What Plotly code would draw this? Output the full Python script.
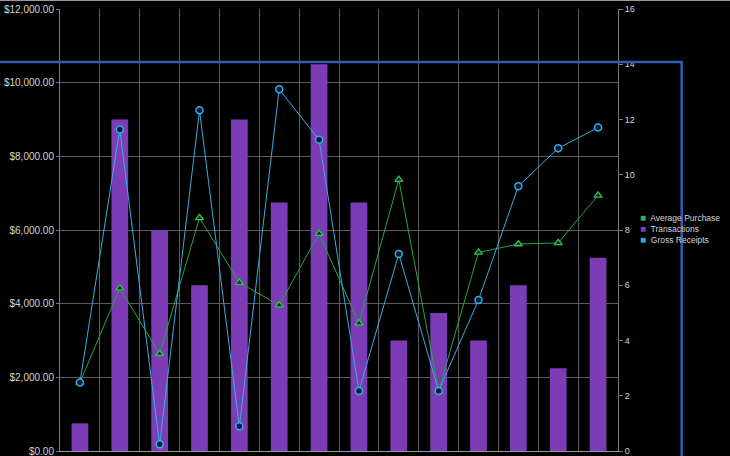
import plotly.graph_objects as go

categories = ["P1", "P2", "P3", "P4", "P5", "P6", "P7", "P8", "P9", "P10", "P11", "P12", "P13", "P14"]
transactions = [1, 12, 8, 6, 12, 9, 14, 9, 4, 5, 4, 6, 3, 7]
gross_receipts = [1860, 8730, 180, 9250, 670, 9820, 8450, 1630, 5350, 1630, 4100, 7190, 8220, 8780]
average_purchase = [1860, 4420, 2640, 6330, 4570, 3960, 5900, 3470, 7370, 1630, 5390, 5620, 5650, 6940]

left_ticks = [0, 2000, 4000, 6000, 8000, 10000, 12000]
left_tick_labels = ["$0.00", "$2,000.00", "$4,000.00", "$6,000.00", "$8,000.00", "$10,000.00", "$12,000.00"]
right_ticks = [0, 2, 4, 6, 8, 10, 12, 14, 16]
legend_names = ["Average Purchase", "Transactions", "Gross Receipts"]

PURPLE = "#7c3cb6"
CYAN = "#36aee0"
GREEN = "#22a745"
TXT = "#d4d4d4"
GRID = "#5c5c5c"
legend_colors = ["#1fb552", PURPLE, "#2aaed8"]

fig = go.Figure()

fig.add_trace(go.Bar(
    x=categories, y=transactions, yaxis="y", width=0.42,
    marker=dict(color=PURPLE, line=dict(width=0)), showlegend=False, name="Transactions"))

fig.add_trace(go.Scatter(
    x=categories, y=average_purchase, yaxis="y2", mode="lines+markers",
    line=dict(color=GREEN, width=1),
    marker=dict(symbol="triangle-up", size=7, color="#0b2a14", line=dict(color="#2fc45a", width=1.3)),
    showlegend=False, name="Average Purchase"))

fig.add_trace(go.Scatter(
    x=categories, y=gross_receipts, yaxis="y2", mode="lines+markers",
    line=dict(color=CYAN, width=1),
    marker=dict(symbol="circle", size=7, color="#0a1838", line=dict(color=CYAN, width=1.5)),
    showlegend=False, name="Gross Receipts"))

legend_text = "<br>".join(
    f"<span style='color:{c};font-size:10px'>■</span>  {n}" for n, c in zip(legend_names, legend_colors))

fig.update_layout(
    width=730, height=456,
    margin=dict(l=60, r=112, t=9, b=5, pad=0, autoexpand=False),
    paper_bgcolor="black", plot_bgcolor="black",
    font=dict(family="Liberation Sans, Arial, sans-serif", size=10, color=TXT),
    showlegend=False,
    xaxis=dict(type="category", showticklabels=False, showgrid=True, gridcolor=GRID, gridwidth=1,
               tickson="boundaries", ticks="", showline=True, linecolor="#9a9a9a", linewidth=1,
               zeroline=False, range=[-0.5, 13.5], automargin=False),
    yaxis=dict(side="right", range=[0, 16], tickvals=right_ticks, showgrid=False, zeroline=False,
               showline=True, linecolor="#7a7a7a", linewidth=1, ticks="outside", ticklen=4,
               tickcolor="#7a7a7a", tickfont=dict(size=9, color=TXT), ticklabeloverflow="allow",
               automargin=False),
    yaxis2=dict(side="left", overlaying="y", range=[0, 12000], tickvals=left_ticks,
                ticktext=left_tick_labels, showgrid=True, gridcolor=GRID, gridwidth=1,
                zeroline=False, showline=True, linecolor="#7a7a7a", linewidth=1,
                ticks="outside", ticklen=3, tickcolor="#7a7a7a", tickfont=dict(size=10, color=TXT),
                ticklabeloverflow="allow", automargin=False),
    annotations=[dict(
        xref="paper", yref="paper", x=(638 - 60) / 558, y=(451.5 - 210) / 442.5,
        xanchor="left", yanchor="top", align="left", showarrow=False,
        text=legend_text, font=dict(size=8.5, color=TXT))],
    shapes=[
        dict(type="rect", xref="paper", yref="paper", x0=-0.13, x1=(681.7 - 60) / 558,
             y0=-0.06, y1=(451.5 - 62) / 442.5,
             line=dict(color="#2f5db0", width=2.5), fillcolor="rgba(0,0,0,0)", layer="above"),
        dict(type="line", xref="paper", yref="paper", x0=-0.12, x1=1.22, y0=(451.5 - 0.5) / 442.5,
             y1=(451.5 - 0.5) / 442.5, line=dict(color="#9a9a9a", width=1)),
    ],
)

fig.write_html("out.html", config={"displayModeBar": False},
               post_script="document.body.style.margin='0px';document.body.style.overflow='hidden';")
